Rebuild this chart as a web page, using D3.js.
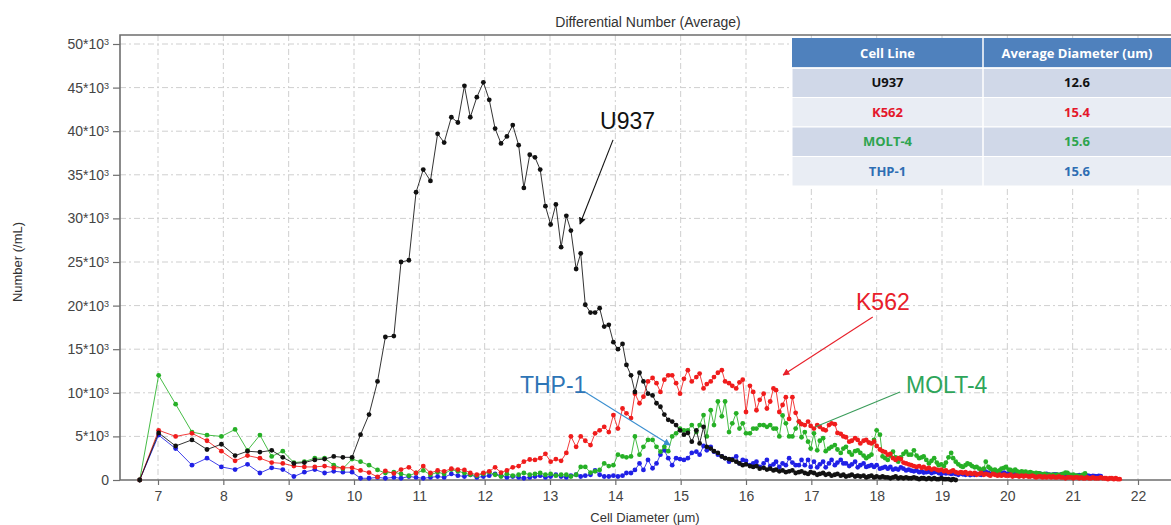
<!DOCTYPE html>
<html>
<head>
<meta charset="utf-8">
<script src="https://cdn.jsdelivr.net/npm/d3@7"></script>
<style>
  html, body { margin: 0; padding: 0; background: #fff; }
  svg { display: block; font-family: "Liberation Sans", Arial, sans-serif; }
</style>
</head>
<body>
<svg id="chart" width="1171" height="525"></svg>
<script>
// Bin centres of the counter (µm), equal-volume bins
const diameterUm = [
  6.72, 7.01, 7.27, 7.52, 7.75, 7.97, 8.18, 8.37, 8.56, 8.74,
  8.91, 9.08, 9.24, 9.40, 9.55, 9.69, 9.83, 9.97, 10.10, 10.23,
  10.36, 10.48, 10.61, 10.72, 10.84, 10.95, 11.06, 11.17, 11.28, 11.38,
  11.49, 11.59, 11.69, 11.78, 11.88, 11.98, 12.07, 12.16, 12.25, 12.34,
  12.43, 12.52, 12.60, 12.69, 12.77, 12.85, 12.93, 13.01, 13.09, 13.17,
  13.25, 13.32, 13.40, 13.47, 13.54, 13.62, 13.69, 13.76, 13.83, 13.90,
  13.97, 14.04, 14.11, 14.17, 14.24, 14.30, 14.37, 14.43, 14.50, 14.57,
  14.63, 14.69, 14.75, 14.81, 14.87, 14.93, 14.99, 15.05, 15.11, 15.17,
  15.24, 15.29, 15.35, 15.40, 15.46, 15.51, 15.57, 15.63, 15.68, 15.74,
  15.79, 15.85, 15.90, 15.95, 16.00, 16.06, 16.11, 16.16, 16.21, 16.27,
  16.32, 16.37, 16.42, 16.46, 16.51, 16.56, 16.61, 16.66, 16.71, 16.76,
  16.81, 16.85, 16.90, 16.95, 16.99, 17.04, 17.09, 17.13, 17.18, 17.22,
  17.27, 17.31, 17.36, 17.40, 17.45, 17.49, 17.53, 17.58, 17.62, 17.67,
  17.71, 17.75, 17.80, 17.84, 17.88, 17.92, 17.96, 18.00, 18.05, 18.09,
  18.13, 18.17, 18.21, 18.25, 18.29, 18.33, 18.37, 18.41, 18.45, 18.49,
  18.53, 18.57, 18.61, 18.65, 18.69, 18.72, 18.76, 18.80, 18.84, 18.88,
  18.92, 18.95, 18.99, 19.03, 19.06, 19.10, 19.14, 19.17, 19.21, 19.25,
  19.29, 19.32, 19.36, 19.39, 19.43, 19.46, 19.50, 19.53, 19.57, 19.60,
  19.64, 19.67, 19.71, 19.74, 19.78, 19.81, 19.85, 19.88, 19.91, 19.95,
  19.98, 20.02, 20.05, 20.08, 20.12, 20.15, 20.18, 20.22, 20.25, 20.28,
  20.32, 20.35, 20.38, 20.41, 20.44, 20.48, 20.51, 20.54, 20.57, 20.60,
  20.64, 20.67, 20.70, 20.73, 20.76, 20.79, 20.82, 20.85, 20.89, 20.92,
  20.95, 20.98, 21.01, 21.04, 21.07, 21.10, 21.13, 21.16, 21.19, 21.22,
  21.25, 21.28, 21.31, 21.34, 21.37, 21.40, 21.43, 21.46, 21.49, 21.51,
  21.54, 21.57, 21.60, 21.63, 21.66, 21.69, 21.72
];

// Counts per bin, in thousands per mL
const u937K = [
  0, 5.4, 3.9, 4.6, 3.5, 4.1, 2.8, 3.3, 3.2, 3.4,
  2.6, 1.9, 2.0, 2.3, 2.4, 2.7, 2.6, 2.6, 5.2, 7.5,
  11.3, 16.4, 16.5, 25.0, 25.2, 33.0, 35.6, 34.3, 39.7, 38.7,
  41.6, 41.0, 45.2, 41.6, 43.9, 45.6, 43.6, 40.3, 38.6, 39.4,
  40.7, 38.4, 33.5, 37.3, 37.0, 35.6, 31.4, 29.3, 31.6, 26.7,
  30.3, 28.6, 24.2, 26.0, 20.1, 19.2, 19.2, 19.7, 17.6, 17.8,
  15.8, 15.0, 15.6, 13.2, 12.0, 10.1, 12.3, 11.3, 9.9, 9.7,
  8.8, 8.4, 7.5, 6.9, 6.7, 6.3, 5.7, 5.2, 5.4, 4.4,
  5.7, 4.2, 6.1, 3.8, 3.6, 3.3, 3.1, 2.7, 2.5, 2.4,
  2.3, 2.1, 1.9, 1.7, 1.8, 1.6, 1.5, 1.6, 1.3, 1.4,
  1.2, 1.3, 1.1, 1.2, 1.0, 1.1, 0.9, 1.0, 1.1, 0.8,
  0.9, 1.0, 0.8, 0.7, 0.9, 0.8, 0.6, 0.7, 0.8, 0.6,
  0.7, 0.5, 0.6, 0.7, 0.5, 0.6, 0.4, 0.5, 0.6, 0.4,
  0.5, 0.4, 0.5, 0.3, 0.4, 0.5, 0.3, 0.4, 0.3, 0.4,
  0.3, 0.3, 0.2, 0.3, 0.4, 0.2, 0.3, 0.2, 0.3, 0.2,
  0.2, 0.3, 0.2, 0.1, 0.2, 0.2, 0.1, 0.2, 0.1, 0.2,
  0.1, 0.1, 0.2, 0.1, 0.1, 0.1, 0.0, 0.1, 0.0
];

const k562K = [
  0, 5.7, 5.0, 5.35, 4.5, 3.3, 2.2, 2.8, 2.5, 2.0,
  1.9, 1.6, 1.5, 1.5, 1.6, 1.4, 1.4, 1.4, 1.1, 0.85,
  0.35, 1.05, 0.75, 1.2, 1.45, 0.8, 1.6, 0.8, 1.1, 1.0,
  1.3, 1.2, 1.15, 0.8, 0.6, 0.8, 1.0, 1.45, 0.85, 1.1,
  1.45, 1.6, 2.1, 2.35, 2.3, 2.5, 3.0, 2.1, 2.4, 2.2,
  3.1, 5.0, 3.8, 5.0, 4.5, 4.0, 5.35, 5.7, 6.1, 5.5,
  7.45, 5.9, 8.2, 7.65, 7.1, 9.9, 8.8, 9.55, 11.3, 11.7,
  11.1, 10.1, 11.5, 12.0, 12.0, 11.1, 9.9, 11.6, 12.6, 11.3,
  11.8, 12.2, 10.5, 11.0, 11.3, 11.8, 12.3, 12.6, 11.3, 11.1,
  10.8, 10.5, 11.2, 11.5, 7.8, 10.8, 10.1, 8.0, 9.2, 9.9,
  8.2, 9.0, 10.5, 10.3, 7.8, 8.6, 9.5, 7.0, 9.5, 7.7,
  6.7, 6.4, 6.3, 6.7, 6.2, 5.9, 6.3, 6.1, 5.8, 5.7,
  6.3, 6.5, 6.4, 5.4, 5.3, 5.0, 4.9, 4.4, 4.5, 4.8,
  4.6, 4.2, 4.5, 4.6, 4.3, 4.2, 4.4, 3.9, 3.5, 3.3,
  3.2, 2.9, 3.0, 2.5, 2.3, 2.5, 2.4, 2.0, 1.9, 1.8,
  1.7, 1.6, 1.5, 1.6, 1.4, 1.5, 1.3, 1.4, 1.2, 1.3,
  1.2, 1.1, 1.2, 1.0, 1.1, 0.9, 1.0, 1.1, 0.9, 0.8,
  0.9, 0.8, 0.9, 0.7, 0.8, 0.7, 0.8, 0.6, 0.7, 0.8,
  0.6, 0.7, 0.6, 0.5, 0.7, 0.6, 0.5, 0.6, 0.5, 0.6,
  0.5, 0.5, 0.6, 0.4, 0.5, 0.5, 0.4, 0.5, 0.4, 0.5,
  0.4, 0.4, 0.5, 0.4, 0.3, 0.4, 0.4, 0.3, 0.4, 0.3,
  0.4, 0.3, 0.4, 0.3, 0.3, 0.4, 0.3, 0.3, 0.2, 0.3,
  0.3, 0.3, 0.2, 0.3, 0.3, 0.2, 0.3, 0.2, 0.2, 0.3,
  0.2, 0.2, 0.3, 0.2, 0.2, 0.2, 0.3, 0.2, 0.2, 0.2,
  0.1, 0.2, 0.2, 0.1, 0.2, 0.1, 0.1
];

const molt4K = [
  0, 12.0, 8.7, 5.5, 5.15, 5.0, 5.8, 3.4, 5.15, 2.7,
  3.3, 2.0, 2.1, 2.5, 2.5, 1.7, 1.3, 2.4, 2.1, 1.7,
  1.15, 0.8, 0.9, 0.7, 0.5, 0.8, 1.1, 0.6, 0.9, 0.7,
  1.2, 1.0, 0.8, 0.6, 0.5, 0.7, 0.9, 0.6, 0.4, 0.7,
  0.5, 0.6, 0.8, 0.6, 0.7, 0.8, 0.6, 0.7, 0.5, 0.6,
  0.6, 0.4, 0.6, 1.5, 1.5, 0.85, 1.0, 1.15, 1.9, 1.6,
  1.7, 2.9, 2.7, 2.6, 2.7, 5.0, 2.9, 3.8, 4.6, 4.6,
  3.8, 3.25, 3.8, 3.3, 5.0, 5.35, 5.9, 5.7, 5.7, 6.3,
  5.5, 6.3, 7.45, 5.0, 8.0, 6.3, 9.0, 7.3, 9.0, 5.5,
  6.5, 7.65, 5.9, 6.5, 5.35, 5.35, 5.9, 5.9, 6.3, 6.3,
  6.1, 6.3, 5.9, 5.9, 5.0, 7.4, 6.5, 5.0, 5.0, 5.9,
  6.7, 4.9, 5.5, 4.4, 3.6, 5.35, 3.4, 4.5, 4.8, 3.3,
  3.6, 3.8, 4.0, 3.5, 3.1, 3.6, 3.8, 3.2, 2.9, 3.3,
  3.4, 3.1, 2.8, 2.5, 2.7, 2.9, 4.6, 5.7, 5.2, 2.7,
  2.5, 2.3, 2.8, 3.25, 2.6, 2.1, 2.6, 3.0, 3.25, 2.9,
  2.9, 3.4, 2.8, 2.5, 2.6, 2.7, 2.3, 1.9, 2.2, 2.5,
  2.0, 1.7, 1.8, 1.6, 2.0, 2.6, 3.1, 2.5, 2.1, 1.8,
  1.6, 1.5, 1.7, 1.9, 1.8, 1.6, 1.45, 1.5, 1.3, 1.15,
  1.3, 2.1, 1.5, 1.3, 1.1, 1.2, 1.0, 1.1, 1.3, 1.4,
  1.5, 1.2, 1.15, 1.0, 1.2, 1.0, 0.9, 1.0, 0.9, 0.95,
  0.8, 0.9, 0.8, 0.7, 0.8, 0.75, 0.7, 0.6, 0.7, 0.6,
  0.6, 0.5, 0.6, 0.5, 0.6, 0.55, 0.6, 0.7, 0.85, 0.8,
  0.6, 0.5, 0.6, 0.5, 0.5, 0.4, 0.5, 0.6, 0.75
];

const thp1K = [
  0, 5.15, 3.6, 1.7, 2.5, 1.5, 1.2, 1.8, 0.8, 1.4,
  1.2, 0.4, 0.9, 1.2, 0.8, 1.0, 0.9, 0.9, 0.2, 0.2,
  0.3, 0.2, 0.3, 0.2, 0.4, 0.3, 0.2, 0.3, 0.4, 0.3,
  0.7, 0.5, 0.4, 0.6, 0.3, 0.4, 0.5, 0.7, 0.5, 0.3,
  0.4, 0.3, 0.2, 0.3, 0.4, 0.5, 0.3, 0.4, 0.6, 0.4,
  0.3, 0.5, 0.6, 0.4, 0.5, 0.6, 1.1, 0.6, 0.4, 0.4,
  0.5, 0.4, 0.5, 0.8, 0.8, 1.15, 1.9, 1.15, 2.3, 1.35,
  1.9, 2.9, 3.4, 2.5, 1.7, 2.5, 2.4, 2.3, 2.5, 3.1,
  3.25, 2.9, 3.9, 3.4, 3.8, 3.25, 2.9, 2.7, 2.5, 2.1,
  2.4, 2.7, 1.9, 2.3, 2.2, 1.7, 1.9, 2.1, 1.5, 1.9,
  2.3, 1.6, 1.8, 2.1, 1.5, 1.9, 1.7, 2.5, 2.0, 1.7,
  1.7, 2.3, 1.7, 2.3, 1.5, 2.1, 1.45, 1.8, 2.1, 1.45,
  1.9, 2.3, 1.7, 2.0, 2.3, 1.9, 1.9, 1.6, 1.8, 2.1,
  1.45, 1.7, 1.9, 1.5, 1.6, 1.7, 1.5, 1.7, 1.3, 1.4,
  1.5, 1.3, 1.5, 1.2, 1.3, 1.2, 1.45, 1.3, 1.1, 1.2,
  1.07, 1.0, 1.1, 0.9, 1.0, 0.85, 0.9, 0.95, 0.8, 0.9,
  0.96, 0.8, 0.7, 0.85, 0.75, 0.8, 0.7, 0.77, 0.7, 0.6,
  0.75, 0.65, 0.6, 0.7, 0.57, 0.65, 0.6, 0.7, 0.65, 0.6,
  0.9, 0.96, 0.8, 0.7, 0.75, 0.85, 0.7, 0.8, 0.75, 0.84,
  0.7, 0.75, 0.8, 0.7, 0.77, 0.65, 0.7, 0.8, 0.7, 0.6,
  0.7, 0.75, 0.7, 0.6, 0.65, 0.77, 0.7, 0.6, 0.65, 0.7,
  0.6, 0.55, 0.6, 0.65, 0.6, 0.5, 0.6, 0.65, 0.55, 0.6,
  0.5, 0.55, 0.5, 0.45, 0.5, 0.55, 0.46, 0.5, 0.45, 0.5,
  0.46, 0.4, 0.46, 0.45, 0.4, 0.46, 0.45
];

const xTickValues = [7, 8, 9, 10, 11, 12, 13, 14, 15, 16, 17, 18, 19, 20, 21, 22];
const yTickValues = [0, 5000, 10000, 15000, 20000, 25000, 30000, 35000, 40000, 45000, 50000];

// Summary table
const tableHeaders = ["Cell Line", "Average Diameter (um)"];
const tableCellLines = ["U937", "K562", "MOLT-4", "THP-1"];
const tableAvgDiameters = ["12.6", "15.4", "15.6", "15.6"];

// ---------------------------------------------------------------
const svg = d3.select("#chart");
const frame = { left: 120, top: 35, right: 1171, bottom: 480 };

const x = d3.scaleLinear().domain([7, 22]).range([158, 1138]);
const y = d3.scaleLinear().domain([0, 50000]).range([480, 44]);

const gridColor = "#cfcfcf";
const gridDash = "6,3,2,3";

// grid
const grid = svg.append("g");
grid.selectAll("line.vx").data(xTickValues).join("line")
  .attr("x1", d => x(d)).attr("x2", d => x(d))
  .attr("y1", frame.top).attr("y2", frame.bottom)
  .attr("stroke", gridColor).attr("stroke-width", 1).attr("stroke-dasharray", gridDash);
grid.selectAll("line.hy").data(yTickValues.filter(v => v > 0)).join("line")
  .attr("x1", frame.left).attr("x2", frame.right)
  .attr("y1", d => y(d)).attr("y2", d => y(d))
  .attr("stroke", gridColor).attr("stroke-width", 1).attr("stroke-dasharray", gridDash);

// axes
const axisColor = "#6e6e6e";
const tickFont = "Liberation Sans, Arial, sans-serif";
const yAxis = svg.append("g")
  .attr("transform", `translate(${frame.left},0)`)
  .call(d3.axisLeft(y).tickValues(yTickValues).tickSize(7).tickPadding(4).tickFormat(d => d));
yAxis.select(".domain").remove();
yAxis.selectAll(".tick line").attr("stroke", axisColor).attr("stroke-width", 1.2);
yAxis.selectAll(".tick text").each(function(d) {
  const t = d3.select(this).text("")
    .attr("fill", "#444").style("font-size", "14px").attr("font-family", tickFont);
  if (d === 0) { t.text("0"); return; }
  t.append("tspan").text(`${d / 1000}*10`);
  t.append("tspan").text("3").attr("dy", "-0.45em").style("font-size", "9px");
});

const xAxis = svg.append("g")
  .attr("transform", `translate(0,${frame.bottom})`)
  .call(d3.axisBottom(x).tickValues(xTickValues).tickSize(5).tickPadding(6).tickFormat(d3.format("d")));
xAxis.select(".domain").remove();
xAxis.selectAll(".tick line").attr("stroke", axisColor).attr("stroke-width", 1.2);
xAxis.selectAll(".tick text").attr("fill", "#444").style("font-size", "14px")
  .attr("font-family", tickFont);

// frame
svg.append("path")
  .attr("d", `M${frame.right},${frame.top}H${frame.left}V${frame.bottom}H${frame.right}`)
  .attr("fill", "none").attr("stroke", axisColor).attr("stroke-width", 1.6);

// titles
svg.append("text").attr("x", 648).attr("y", 27).attr("text-anchor", "middle")
  .attr("fill", "#333").style("font-size", "14px").text("Differential Number (Average)");
svg.append("text").attr("x", 645).attr("y", 522).attr("text-anchor", "middle")
  .attr("fill", "#333").style("font-size", "13px").text("Cell Diameter (µm)");
svg.append("text").attr("transform", "translate(22,262) rotate(-90)").attr("text-anchor", "middle")
  .attr("fill", "#333").style("font-size", "13px").text("Number (/mL)");

// series
const series = [
  { name: "THP-1", values: thp1K, color: "#2020e6" },
  { name: "MOLT-4", values: molt4K, color: "#26b026" },
  { name: "K562", values: k562K, color: "#f01c1c" },
  { name: "U937", values: u937K, color: "#111111" }
];
const line = d3.line().x(d => x(d.d)).y(d => y(d.v));
series.forEach(s => {
  const pts = s.values.map((v, i) => ({ d: diameterUm[i], v: v * 1000 }));
  const g = svg.append("g");
  g.append("path").datum(pts).attr("d", line)
    .attr("fill", "none").attr("stroke", s.color).attr("stroke-width", 1).attr("stroke-opacity", 0.85);
  g.selectAll("circle").data(pts).join("circle")
    .attr("cx", d => x(d.d)).attr("cy", d => y(d.v)).attr("r", 2.4).attr("fill", s.color);
});

// annotations with arrows
const defs = svg.append("defs");
function arrowMarker(id, color) {
  defs.append("marker").attr("id", id).attr("viewBox", "0 0 10 10")
    .attr("refX", 9).attr("refY", 5).attr("markerWidth", 7).attr("markerHeight", 7)
    .attr("markerUnits", "userSpaceOnUse").attr("orient", "auto")
    .append("path").attr("d", "M0,0L10,5L0,10Z").attr("fill", color);
}
arrowMarker("arrU937", "#111");
arrowMarker("arrK562", "#e8202a");
arrowMarker("arrTHP1", "#3b8fd0");

const annotations = [
  { text: "U937", color: "#111", tx: 13.766, ty: 40250, from: [13.965, 39000], to: [13.459, 29360], lineColor: "#111", marker: "arrU937" },
  { text: "K562", color: "#e8202a", tx: 17.684, ty: 19500, from: [17.94, 18700], to: [16.567, 12040], lineColor: "#e8202a", marker: "arrK562" },
  { text: "MOLT-4", color: "#2ea55a", tx: 18.449, ty: 9980, from: [18.357, 10090], to: [17.057, 6080], lineColor: "#3a9c5a", marker: null },
  { text: "THP-1", color: "#2e75b6", tx: 12.54, ty: 9980, from: [13.536, 10090], to: [14.837, 4010], lineColor: "#3b8fd0", marker: "arrTHP1" }
];
annotations.forEach(a => {
  const l = svg.append("line")
    .attr("x1", x(a.from[0])).attr("y1", y(a.from[1]))
    .attr("x2", x(a.to[0])).attr("y2", y(a.to[1]))
    .attr("stroke", a.lineColor).attr("stroke-width", 1.1);
  if (a.marker) l.attr("marker-end", `url(#${a.marker})`);
  svg.append("text").attr("x", x(a.tx)).attr("y", y(a.ty))
    .attr("fill", a.color).style("font-size", "23px").text(a.text);
});

// summary table
const table = { left: 792, mid: 983, right: 1175, top: 38, headH: 30, rowH: 29.5 };
const tg = svg.append("g").style("font-family", "'Open Sans', 'Liberation Sans', Arial, sans-serif")
  .style("font-weight", "bold").style("font-size", "13px");
tg.append("rect").attr("x", table.left).attr("y", table.top)
  .attr("width", table.right - table.left).attr("height", table.headH).attr("fill", "#4f81bd");
const rowColors = ["#d0d8e8", "#e9edf4"];
const textColors = ["#111111", "#e4172b", "#2da44e", "#2e6db3"];
tableCellLines.forEach((name, i) => {
  const y0 = table.top + table.headH + i * table.rowH;
  tg.append("rect").attr("x", table.left).attr("y", y0)
    .attr("width", table.right - table.left).attr("height", table.rowH)
    .attr("fill", rowColors[i % 2]).attr("stroke", "#fff").attr("stroke-width", 1);
  tg.append("text").attr("x", (table.left + table.mid) / 2).attr("y", y0 + table.rowH / 2 + 4.5)
    .attr("text-anchor", "middle").attr("fill", textColors[i]).text(name);
  tg.append("text").attr("x", (table.mid + 1171) / 2).attr("y", y0 + table.rowH / 2 + 4.5)
    .attr("text-anchor", "middle").attr("fill", textColors[i]).text(tableAvgDiameters[i]);
});
tg.append("line").attr("x1", table.mid).attr("x2", table.mid)
  .attr("y1", table.top).attr("y2", table.top + table.headH + 4 * table.rowH)
  .attr("stroke", "#fff").attr("stroke-width", 1.5);
tg.append("line").attr("x1", table.left).attr("x2", table.right)
  .attr("y1", table.top + table.headH).attr("y2", table.top + table.headH)
  .attr("stroke", "#fff").attr("stroke-width", 1.5);
tg.append("text").attr("x", (table.left + table.mid) / 2).attr("y", table.top + table.headH / 2 + 4.5)
  .attr("text-anchor", "middle").attr("fill", "#fff").text(tableHeaders[0]);
tg.append("text").attr("x", (table.mid + 1171) / 2).attr("y", table.top + table.headH / 2 + 4.5)
  .attr("text-anchor", "middle").attr("fill", "#fff").text(tableHeaders[1]);
</script>
</body>
</html>
